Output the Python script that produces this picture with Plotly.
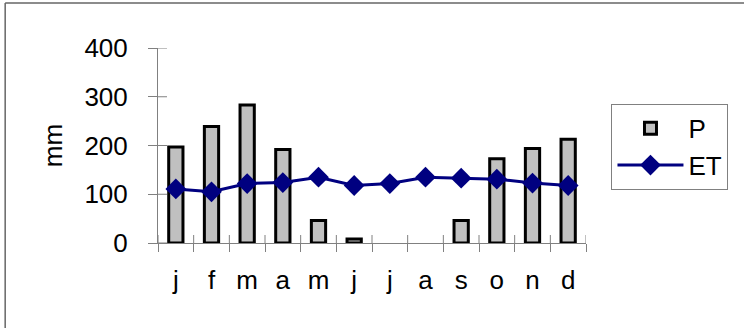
import plotly.graph_objects as go

months = ["j", "f", "m", "a", "m ", "j ", "j  ", "a ", "s", "o", "n", "d"]
month_labels = ["j", "f", "m", "a", "m", "j", "j", "a", "s", "o", "n", "d"]
P = [197, 239, 283, 192, 46, 8, 0, 0, 46, 173, 194, 213]
ET = [111, 105, 122, 124, 135, 118, 122, 135, 133, 131, 123, 118]
y_ticks = [0, 100, 200, 300, 400]

W, H = 744, 328
ML, MR, MT, MB = 158, 157.5, 48, 84.7
pw = W - ML - MR
ph = H - MT - MB

def px(x):
    return (x - ML) / pw

def py(y):
    return (H - MB - y) / ph

FONT = dict(family="Liberation Sans, Arial, sans-serif", size=26, color="black")
AXC = "#808080"

fig = go.Figure()
fig.add_trace(go.Bar(
    x=months, y=P, name="P", width=0.4,
    marker=dict(color="#c0c0c0",
                line=dict(color="black", width=[3 if v > 0 else 0 for v in P])),
))
fig.add_trace(go.Scatter(
    x=months, y=ET, name="ET", mode="lines+markers",
    line=dict(color="#000080", width=3),
    marker=dict(symbol="diamond", size=16, color="#000080"),
))

shapes = [
    dict(type="line", xref="paper", yref="paper",
         x0=px(5), x1=px(760), y0=py(3), y1=py(3),
         line=dict(color="#666666", width=1.5)),
    dict(type="line", xref="paper", yref="paper",
         x0=px(5), x1=px(5), y0=py(3), y1=py(340),
         line=dict(color="#666666", width=1.5)),
]
# inner halves of the crossing tick marks
for t in y_ticks:
    shapes.append(dict(type="line", xref="x domain", yref="y",
                       x0=0, x1=9 / pw, y0=t, y1=t, layer="below",
                       line=dict(color=AXC, width=1)))
for i in range(len(months) + 1):
    shapes.append(dict(type="line", xref="x", yref="y domain",
                       x0=i - 0.5, x1=i - 0.5, y0=0, y1=8 / ph, layer="below",
                       line=dict(color=AXC, width=1)))

fig.update_layout(
    width=W, height=H,
    margin=dict(l=ML, r=MR, t=MT, b=MB, autoexpand=False),
    paper_bgcolor="white", plot_bgcolor="white",
    font=FONT,
    showlegend=True,
    legend=dict(
        x=px(612), y=py(104), xanchor="left", yanchor="top",
        bordercolor="#808080", borderwidth=1, bgcolor="white",
        font=FONT, tracegroupgap=4, itemwidth=66,
    ),
    xaxis=dict(
        type="category", categoryorder="array", categoryarray=months,
        tickvals=months, ticktext=month_labels,
        tickson="boundaries", ticks="outside", ticklen=8, tickcolor=AXC,
        tickwidth=1, showline=True, linecolor=AXC, linewidth=1,
        showgrid=False, zeroline=False, range=[-0.5, 11.5],
        ticklabelstandoff=14, tickfont=FONT,
    ),
    yaxis=dict(
        range=[0, 400], tickvals=y_ticks, ticks="outside", ticklen=9,
        tickcolor=AXC, tickwidth=1, showline=True, linecolor=AXC,
        linewidth=1, showgrid=False, zeroline=False,
        ticklabelstandoff=15, tickfont=FONT,
        title=dict(text="mm", font=FONT, standoff=14),
    ),
    shapes=shapes,
)

fig.write_html("out.html")
